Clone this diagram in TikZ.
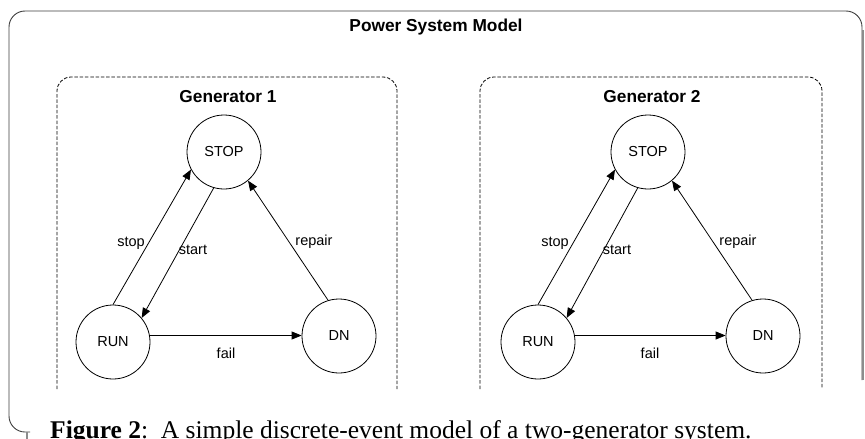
\documentclass[tikz,border=0pt]{standalone}
\usepackage{fontspec}
\setmainfont{Liberation Sans}
\newfontfamily\capfont{Liberation Serif}
\usetikzlibrary{arrows.meta}
\begin{document}
\begin{tikzpicture}[x=1pt,y=-1pt,
  state/.style={draw, circle, minimum size=74pt, inner sep=0pt, font=\fontsize{14.5}{17}\selectfont, line width=0.8pt},
  genbox/.style={draw, dashed, dash pattern=on 3.5pt off 1.8pt, rounded corners=14pt, line width=0.8pt},
  trans/.style={-{Triangle[length=10pt,width=8pt]}, line width=0.8pt},
  lbl/.style={font=\fontsize{14.5}{17}\selectfont, inner sep=1pt},
  ttl/.style={font=\bfseries\fontsize{17.3}{20}\selectfont}]
\useasboundingbox (0,0) rectangle (865,439);
\fill[white] (0,0) rectangle (865,439);
% outer box
\draw[line width=0.9pt, draw=black!75, rounded corners=16pt] (862,380) -- (862,11) -- (9,11) -- (9,432) -- (30,432);
\draw[line width=1.6pt, draw=black!45] (862.8,30) -- (862.8,380);
\draw[line width=1.2pt, draw=black!45] (27,432) -- (27,439);
\node[ttl] (title) at (436,27) {Power System Model};
% generator boxes
\draw[genbox] (57,389) -- (57,77) -- (397,77) -- (397,389);
\draw[genbox] (480,389) -- (480,77) -- (822,77) -- (822,389);
\node[ttl] (g1) at (228,97) {Generator 1};
\node[ttl] (g2) at (652,97) {Generator 2};
% generator 1
\node[state] (stop1) at (224,152) {STOP};
\node[state] (run1) at (113,342) {RUN};
\node[state] (dn1) at (339,336) {DN};
\draw[trans] (run1.90) -- (stop1.208);
\draw[trans] (stop1.254) -- (run1.40);
\draw[trans] (dn1.107) -- (stop1.-50);
\draw[trans] (run1.10) -- (run1.10 -| dn1.west);
\node[lbl] (s1) at (131,243) {stop};
\node[lbl] (st1) at (193,250) {start};
\node[lbl] (r1) at (314,242) {repair};
\node[lbl] (f1) at (226,353) {fail};
% generator 2
\node[state] (stop2) at (648,152) {STOP};
\node[state] (run2) at (538,342) {RUN};
\node[state] (dn2) at (763,336) {DN};
\draw[trans] (run2.90) -- (stop2.208);
\draw[trans] (stop2.254) -- (run2.40);
\draw[trans] (dn2.107) -- (stop2.-50);
\draw[trans] (run2.10) -- (run2.10 -| dn2.west);
\node[lbl] (s2) at (555,243) {stop};
\node[lbl] (st2) at (617,250) {start};
\node[lbl] (r2) at (738,242) {repair};
\node[lbl] (f2) at (650,353) {fail};
% caption
\node[anchor=base west, inner sep=0pt, font=\capfont\fontsize{25.5}{30}\selectfont] (cap) at (50,438.5) {\textbf{Figure 2}:\ \ A simple discrete-event model of a two-generator system.};
\end{tikzpicture}
\end{document}
